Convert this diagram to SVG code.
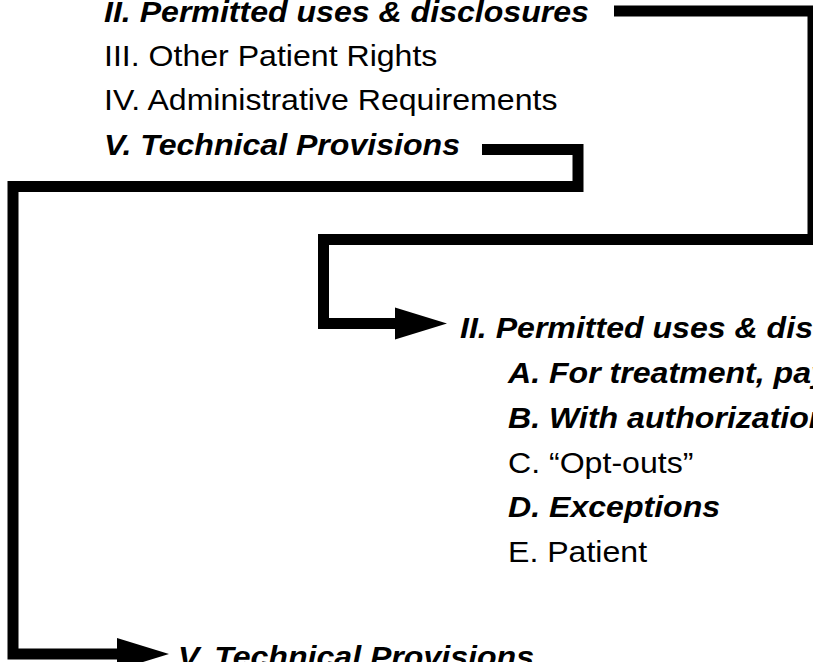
<svg xmlns="http://www.w3.org/2000/svg" width="813" height="662" viewBox="0 0 813 662">
  <style>
    text { font-family: "Liberation Sans", Arial, sans-serif; font-size: 30px; fill: #000; }
    .em { font-weight: bold; font-style: italic; }
    .conn { fill: none; stroke: #000; stroke-width: 11; stroke-linejoin: miter; stroke-linecap: butt; }
  </style>
  <defs>
    <marker id="arrow" markerUnits="userSpaceOnUse" markerWidth="52" markerHeight="32" viewBox="0 0 52 32" refX="0" refY="16" orient="auto" overflow="visible">
      <path d="M0,0 L52,16 L0,32 Z" fill="#000"/>
    </marker>
  </defs>
  <rect width="813" height="662" fill="#fff"/>

  <g id="connectors">
    <path class="conn" d="M614,11 H813 V239.5 H323.5 V323.5 H395" marker-end="url(#arrow)"/>
    <path class="conn" d="M482,149.5 H578 V186.5 H13 V654 H117" marker-end="url(#arrow)"/>
  </g>

  <g id="outline-top">
    <g id="top-II"><text class="em" transform="translate(104,22) scale(1.07,1)">II. Permitted uses &amp; disclosures</text></g>
    <g id="top-III"><text transform="translate(104,66) scale(1.07,1)">III. Other Patient Rights</text></g>
    <g id="top-IV"><text transform="translate(104,110) scale(1.07,1)">IV. Administrative Requirements</text></g>
    <g id="top-V"><text class="em" transform="translate(104,155) scale(1.07,1)">V. Technical Provisions</text></g>
  </g>

  <g id="outline-II">
    <g id="II-head"><text class="em" transform="translate(460,338) scale(1.07,1)">II. Permitted uses &amp; dis</text></g>
    <g id="II-A"><text class="em" transform="translate(508,383) scale(1.07,1)">A. For treatment, pay</text></g>
    <g id="II-B"><text class="em" transform="translate(508,428) scale(1.07,1)">B. With authorization</text></g>
    <g id="II-C"><text transform="translate(508,473) scale(1.07,1)">C. “Opt-outs”</text></g>
    <g id="II-D"><text class="em" transform="translate(508,517) scale(1.07,1)">D. Exceptions</text></g>
    <g id="II-E"><text transform="translate(508,562) scale(1.07,1)">E. Patient</text></g>
  </g>

  <g id="outline-V">
    <g id="V-head"><text class="em" transform="translate(178,667) scale(1.07,1)">V. Technical Provisions</text></g>
  </g>
</svg>
